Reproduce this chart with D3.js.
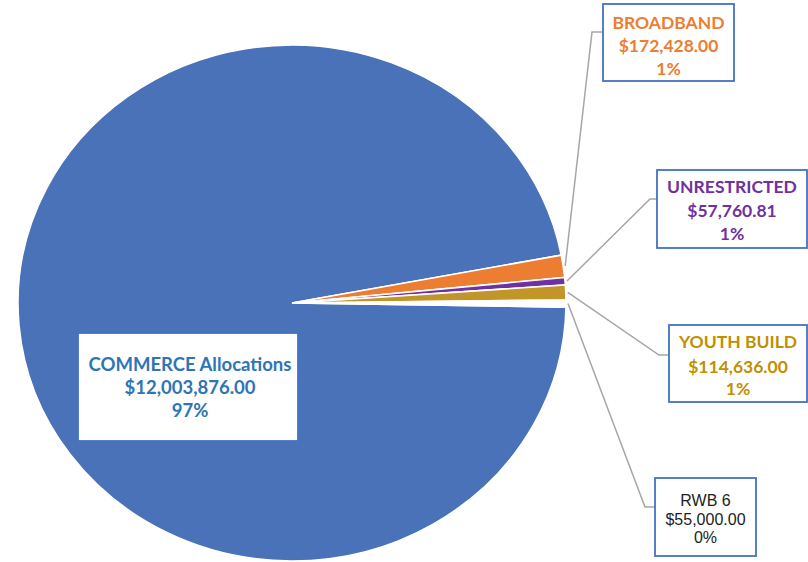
<!DOCTYPE html>
<html><head><meta charset="utf-8">
<script src="https://cdn.jsdelivr.net/npm/d3@7"></script>
<style>html,body{margin:0;padding:0;background:#fff;}svg{display:block;}</style>
</head><body>
<svg id="chart" width="808" height="562"></svg>
<script>
// ---- data ----
const categories = ["COMMERCE Allocations", "BROADBAND", "UNRESTRICTED", "YOUTH BUILD", "RWB 6"];
const values = [12003876.00, 172428.00, 57760.81, 114636.00, 55000.00];
const valueLabels = ["$12,003,876.00", "$172,428.00", "$57,760.81", "$114,636.00", "$55,000.00"];
const percentLabels = ["97%", "1%", "1%", "1%", "0%"];

// ---- styles / layout ----
const sliceColors = ["#4A72B9", "#ED7D31", "#7030A0", "#C29529", "#FFFFFF"];
const textColors = ["#2E75B6", "#ED7D31", "#7030A0", "#BF9000", "#222222"];
const boxes = [
  {x: 78, y: 333, w: 220, h: 108, cx: 190, base: [38, 61, 84], font: "bold 18.5px Lato", bend: null},
  {x: 603, y: 4, w: 131, h: 77, cx: 668.5, base: [25, 48, 71], font: "bold 17.5px Lato", bend: [592, 32]},
  {x: 657, y: 170, w: 150, h: 78, cx: 732, base: [23, 47, 70], font: "bold 17.5px Lato", bend: [650, 199]},
  {x: 669, y: 325, w: 138, h: 77, cx: 738, base: [23, 48, 70], font: "bold 17.5px Lato", bend: [659, 355]},
  {x: 655, y: 478, w: 101, h: 78, cx: 705.5, base: [28, 47, 65], font: "16px 'Liberation Sans', Arial", bend: [645, 507]}
];

const svg = d3.select("#chart");
const cx = 292, cy = 303, rx = 274, ry = 258;

const endSmall = Math.PI / 2 + 0.016;
const pie = d3.pie().sort(null).value(d => d)
  .startAngle(endSmall).endAngle(endSmall + 2 * Math.PI);
const arcs = pie(values);
const arc = d3.arc().innerRadius(0).outerRadius(ry);

const g = svg.append("g").attr("transform", `translate(${cx},${cy}) scale(${rx / ry},1)`);
g.selectAll("path").data(arcs).join("path")
  .attr("d", arc)
  .attr("fill", (d, i) => sliceColors[i])
  .attr("stroke", "#fff")
  .attr("stroke-width", 1.6)
  .attr("vector-effect", "non-scaling-stroke");

// leader lines
arcs.forEach((a, i) => {
  const b = boxes[i];
  if (!b.bend) return;
  const m = (a.startAngle + a.endAngle) / 2;
  const sx = cx + (rx + 2) * Math.sin(m);
  const sy = cy - (ry + 2) * Math.cos(m);
  svg.append("polyline")
    .attr("points", `${sx},${sy} ${b.bend[0]},${b.bend[1]} ${b.x},${b.bend[1]}`)
    .attr("fill", "none").attr("stroke", "#A6A6A6").attr("stroke-width", 1.5);
});

// label boxes
boxes.forEach((b, i) => {
  svg.append("rect").attr("x", b.x).attr("y", b.y).attr("width", b.w).attr("height", b.h)
    .attr("fill", "#fff").attr("stroke", "#4472C4").attr("stroke-width", 1.8);
  const lines = [categories[i], valueLabels[i], percentLabels[i]];
  lines.forEach((t, j) => {
    svg.append("text").attr("x", b.cx).attr("y", b.y + b.base[j])
      .attr("text-anchor", "middle").style("font", b.font)
      .attr("fill", textColors[i]).text(t);
  });
});
</script>
</body></html>
